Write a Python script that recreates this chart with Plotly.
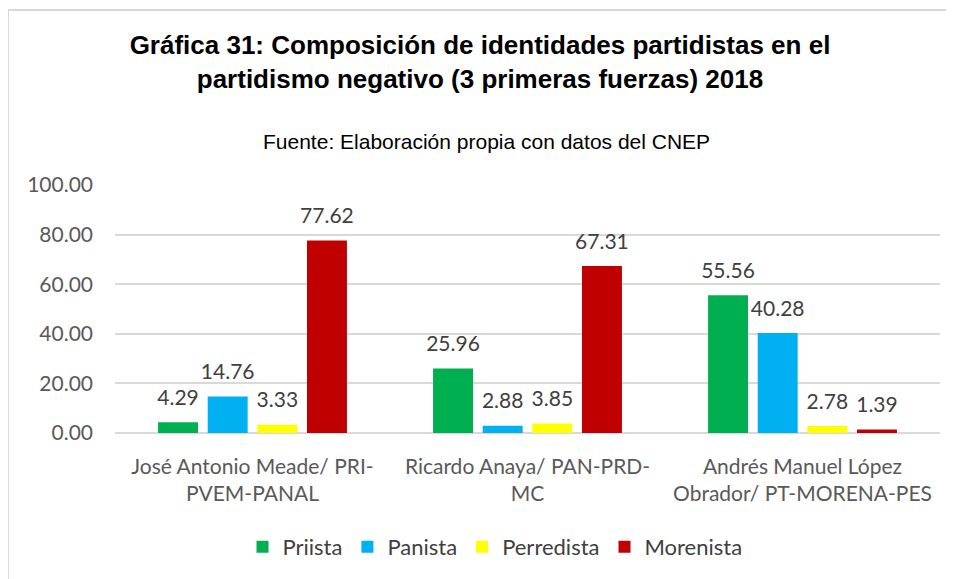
import plotly.graph_objects as go

categories = ["José Antonio Meade/ PRI-<br>PVEM-PANAL",
              "Ricardo Anaya/ PAN-PRD-<br>MC",
              "Andrés Manuel López<br>Obrador/ PT-MORENA-PES"]
series_names = ["Priista", "Panista", "Perredista", "Morenista"]
priista = [4.29, 25.96, 55.56]
panista = [14.76, 2.88, 40.28]
perredista = [3.33, 3.85, 2.78]
morenista = [77.62, 67.31, 1.39]
colors = ["#00B050", "#00B0F0", "#FFFF00", "#C00000"]
y_ticks = [0, 20, 40, 60, 80, 100]

W, H = 954, 579
OFF = 8  # page body margin offset
L, R, T, B = 115 - OFF, W - (940 - OFF), 185 - OFF, H - (433 - OFF)
PH = H - T - B
PW = W - L - R

LABEL_FONT = "Lato, Open Sans, sans-serif"

fig = go.Figure()
for name, vals, col in zip(series_names, [priista, panista, perredista, morenista], colors):
    fig.add_trace(go.Bar(
        x=categories, y=vals, name=name, marker_color=col,
        marker_line_width=0, offsetgroup=name,
    ))
for name, vals in zip(series_names, [priista, panista, perredista, morenista]):
    fig.add_trace(go.Scatter(
        x=categories, y=vals, mode="markers+text", offsetgroup=name,
        marker=dict(size=18, opacity=0), showlegend=False, hoverinfo="skip",
        text=[f"{v:.2f}" for v in vals], textposition="top center",
        textfont=dict(family=LABEL_FONT, size=21, color="#404040"),
        cliponaxis=False,
    ))

def py(screen_y):
    return (433 - screen_y) / PH

def px(screen_x):
    return (screen_x - 115) / PW

fig.update_layout(
    width=W, height=H,
    paper_bgcolor="white", plot_bgcolor="white",
    barmode="group", scattermode="group", bargap=0.278, bargroupgap=0.195,
    margin=dict(l=L, r=R, t=T, b=B),
    title=dict(
        text="<b>Gráfica 31: Composición de identidades partidistas en el<br>partidismo negativo (3 primeras fuerzas) 2018</b>",
        x=(480 - OFF) / W, xanchor="center", xref="container",
        y=1 - 46 / H, yanchor="top", yref="container",
        font=dict(family="Liberation Sans, Arial, sans-serif", size=26, color="black"),
    ),
    annotations=[dict(
        text="Fuente: Elaboración propia con datos del CNEP",
        x=px(486), xref="paper", y=py(141), yref="paper", yanchor="middle", showarrow=False,
        font=dict(family="Liberation Sans, Arial, sans-serif", size=21, color="black"),
    )],
    legend=dict(
        orientation="h", x=px(495), xanchor="center", y=py(547), yanchor="middle",
        font=dict(family=LABEL_FONT, size=22, color="#404040"),
        traceorder="normal",
    ),
    yaxis=dict(
        range=[0, 100], tickvals=y_ticks, tickformat=".2f",
        showgrid=True, gridcolor="#D9D9D9", gridwidth=2,
        zeroline=True, zerolinecolor="#D9D9D9", zerolinewidth=2,
        tickfont=dict(family=LABEL_FONT, size=21, color="#595959"),
        ticks="", ticklabelstandoff=21,
    ),
    xaxis=dict(
        tickfont=dict(family=LABEL_FONT, size=21, color="#595959"),
        showline=False, ticks="", ticklabelstandoff=19,
    ),
    shapes=[dict(type="rect", xref="paper", yref="paper",
                 x0=px(8), x1=px(980),
                 y0=py(620), y1=py(10),
                 line=dict(color="#D9D9D9", width=2))],
)

fig.write_html("out.html")
